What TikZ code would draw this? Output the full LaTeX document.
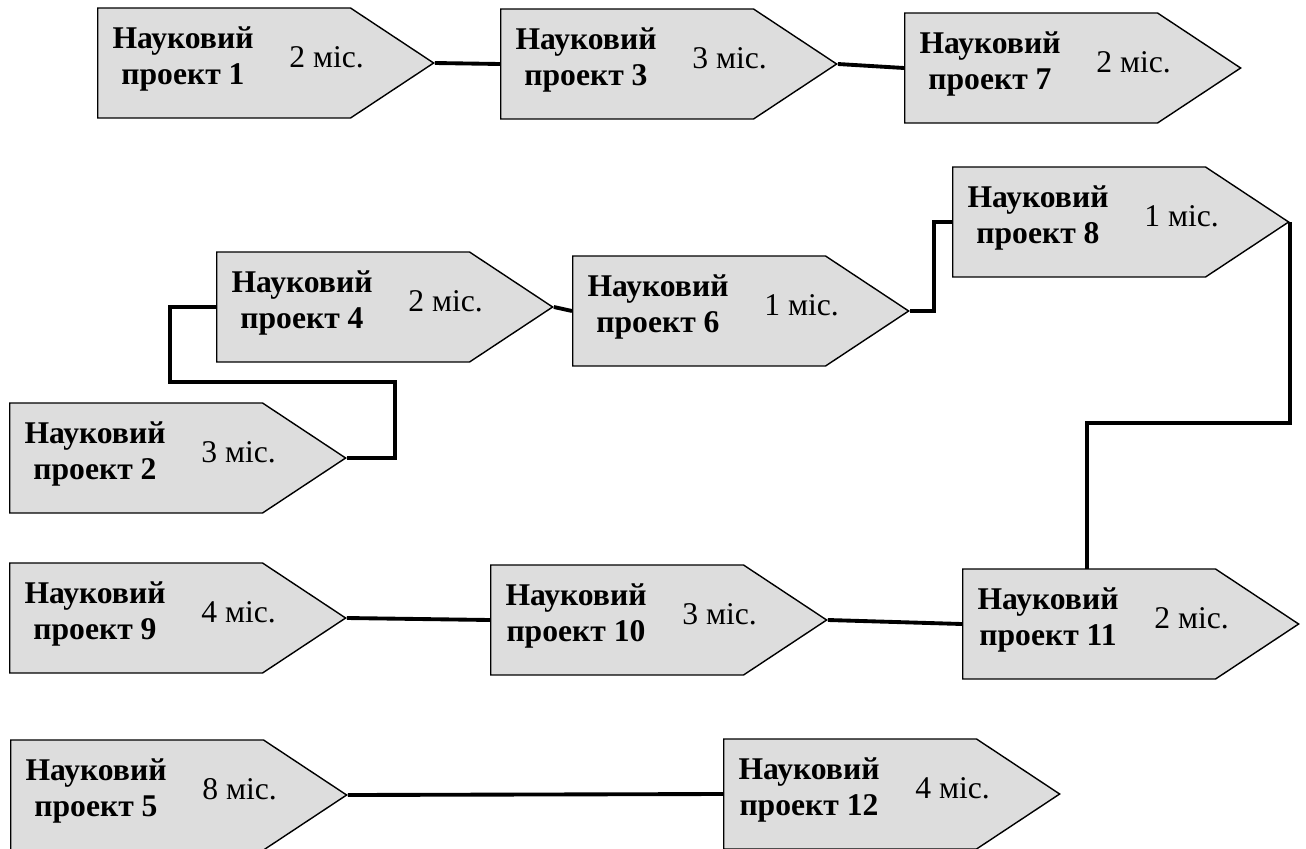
\documentclass[tikz,border=0pt]{standalone}
\usepackage{fontspec}
\setmainfont{Liberation Serif}
\usetikzlibrary{shapes.symbols}
\definecolor{projgray}{RGB}{221,221,221}
\tikzset{
    project/.style={signal, signal to=east, signal pointer angle=67, draw, fill=projgray,
        line width=0.8pt, minimum width=6.72cm, minimum height=2.2cm, inner sep=0pt, anchor=west},
    title/.style={font=\fontsize{18}{21}\selectfont\bfseries, align=center, inner sep=0pt},
    months/.style={font=\fontsize{18}{21}\selectfont, anchor=base west, inner sep=0pt},
    link/.style={line width=2.2pt},
}
\begin{document}
\begin{tikzpicture}[x=0.02cm, y=-0.02cm]
        \useasboundingbox (0,0) rectangle (1306,849);
        %% Projects
        \foreach \n/\x/\y/\m in {1/97/63/2, 3/500/64/3, 7/904/68/2, 8/952/222/1,
            4/216/307/2, 6/572/311/1, 2/9/458/3, 9/9/618/4, 10/490/620/3,
            11/962/624/2, 5/10/795/8, 12/723/794/4}{
            \node[project] (p\n) at (\x,\y) {};
            \node[title] (t\n) at ([shift={(86,-4)}]p\n.west) {Науковий\\проект \n};
            \node[months] (m\n) at ([shift={(192,4)}]p\n.west) {\m{} міс.};
        }
        %% Links
        \draw[link] (p1.east) -- (p3.west);
        \draw[link] (p3.east) -- (p7.west);
        \draw[link] (p2.east) -- ++(48,0) -- ++(0,-76) -- ++(-225,0) |- (p4.west);
        \draw[link] (p4.east) -- (p6.west);
        \draw[link] (p6.east) -- ++(24,0) |- (p8.west);
        \coordinate (drop) at ([shift={(125,-55)}]p11.west);
        \draw[link] (p8.east) -- ++(0,201) -| (drop);
        \draw[link] (p9.east) -- (p10.west);
        \draw[link] (p10.east) -- (p11.west);
        \draw[link] (p5.east) -- (p12.west);
    \end{tikzpicture}
\end{document}
